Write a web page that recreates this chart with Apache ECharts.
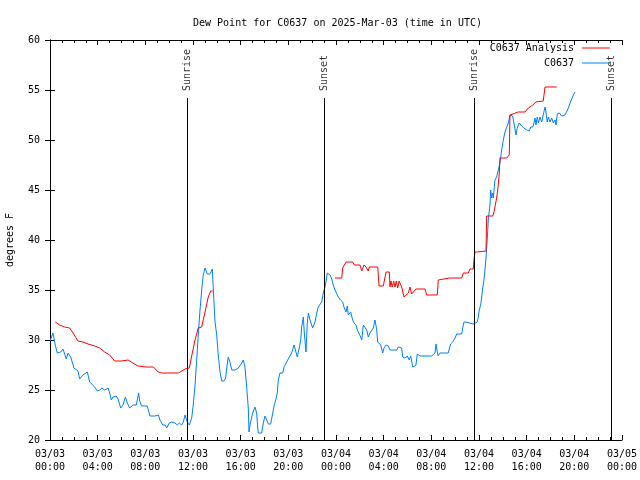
<!DOCTYPE html>
<html><head><meta charset="utf-8">
<script src="https://cdn.jsdelivr.net/npm/echarts@6/dist/echarts.min.js"></script>
<style>html,body{margin:0;padding:0;background:#fff}#c{width:640px;height:480px}</style>
</head><body><div id="c"></div>
<script>
const titleText = 'Dew Point for C0637 on 2025-Mar-03 (time in UTC)';
const yAxisName = 'degrees F';
const xTickLabels = ['03/03\n00:00','03/03\n04:00','03/03\n08:00','03/03\n12:00','03/03\n16:00','03/03\n20:00',
  '03/04\n00:00','03/04\n04:00','03/04\n08:00','03/04\n12:00','03/04\n16:00','03/04\n20:00','03/05\n00:00'];
const seriesNames = ['C0637 Analysis', 'C0637'];

// hours since 2025-03-03 00:00 UTC
const sunTimes = [11.52, 23.03, 35.6, 47.12];
const sunLabels = ['Sunrise', 'Sunset', 'Sunrise', 'Sunset'];

const redTimesA = [0.44,0.81,1.23,1.65,1.93,2.35,2.77,3.19,3.75,4.17,4.59,5.01,5.43,5.98,6.55,6.96,7.38,8.08,8.67,9.09,
  9.37,10.77,11.05,11.33,11.69,11.89,12.17,12.44,12.73,13.01,13.28,13.49,13.65];
const redValuesA = [31.8,31.5,31.3,31.2,30.7,29.9,29.8,29.6,29.4,29.2,28.8,28.5,27.9,27.9,28.0,27.7,27.4,27.3,27.3,26.8,
  26.7,26.7,26.9,27.1,27.2,28.4,30.0,31.2,31.3,32.8,34.3,34.9,34.9];

const redTimesB = [23.92,24.48,24.56,24.70,24.84,25.40,25.54,26.01,26.16,26.35,26.52,26.71,26.79,27.50,27.61,27.97,28.20,28.47,
  28.53,28.61,28.72,28.84,28.95,29.06,29.18,29.29,29.37,29.51,29.71,29.87,30.07,30.21,30.35,30.49,30.71,31.47,31.61,32.50,
  32.58,33.51,34.55,34.68,35.10,35.24,35.52,35.58,35.66,35.86,35.94,36.59,36.64,37.15,37.26,37.34,37.48,37.57,37.70,37.76,
  38.32,38.54,38.60,38.74,39.30,39.86,40.14,40.51,40.61,40.78,41.39,41.54,41.96,42.10,42.52];
const redValuesB = [36.2,36.2,37.2,37.2,37.8,37.8,37.5,37.5,36.9,37.5,37.3,36.9,37.3,37.3,35.4,35.4,36.8,36.8,
  35.3,35.9,35.3,35.9,35.3,35.9,35.2,35.9,35.7,35.3,34.3,34.1,34.7,35.3,34.6,34.6,35.1,35.1,34.5,34.5,
  36.0,36.2,36.2,36.7,36.7,37.1,37.1,38.0,38.8,38.8,38.9,38.9,42.4,42.4,42.8,43.3,44.2,45.0,46.6,48.2,
  48.2,48.5,52.5,52.7,52.8,52.8,53.2,53.5,53.7,53.8,53.9,55.3,55.3,55.2,55.3];

const blueTimes = [0.00,0.11,0.25,0.34,0.44,0.61,0.90,1.09,1.37,1.51,1.74,2.01,2.12,2.35,2.49,2.77,3.13,3.33,3.47,3.75,
  3.97,4.17,4.36,4.59,4.87,5.01,5.14,5.29,5.56,5.71,5.93,6.13,6.32,6.49,6.69,6.96,7.24,7.44,7.53,7.69,
  8.16,8.25,8.39,8.81,9.09,9.23,9.46,9.65,9.79,10.01,10.21,10.49,10.68,10.85,11.05,11.19,11.33,11.47,11.52,11.69,
  11.89,12.02,12.17,12.31,12.44,12.59,12.73,12.86,13.01,13.20,13.43,13.62,13.70,13.85,13.99,14.12,14.27,14.41,14.60,14.74,
  14.83,14.96,15.10,15.25,15.52,15.80,16.09,16.22,16.36,16.51,16.64,16.70,16.78,17.01,17.20,17.34,17.43,17.48,17.76,17.90,
  18.04,18.18,18.32,18.52,18.69,18.82,18.96,19.07,19.16,19.30,19.53,19.64,19.86,20.08,20.28,20.48,20.64,20.75,20.92,21.04,
  21.12,21.26,21.34,21.48,21.59,21.68,21.82,22.04,22.24,22.38,22.51,22.66,22.80,22.93,23.08,23.22,23.27,23.50,23.64,23.77,
  23.92,24.06,24.19,24.39,24.56,24.67,24.84,24.95,25.03,25.23,25.40,25.51,25.68,25.79,25.95,26.07,26.16,26.29,26.43,26.58,
  26.71,26.85,26.99,27.13,27.27,27.42,27.50,27.63,27.75,27.92,28.03,28.20,28.39,28.53,28.67,28.87,29.09,29.23,29.51,29.60,
  29.79,29.98,30.15,30.27,30.44,30.55,30.71,30.82,31.05,32.03,32.16,32.31,32.39,32.50,32.58,32.73,33.42,33.51,33.62,33.79,
  33.90,33.99,34.13,34.55,34.63,34.74,34.91,35.02,35.52,35.66,35.86,35.94,36.02,36.14,36.23,36.31,36.42,36.50,36.59,36.70,
  36.78,36.92,36.98,37.06,37.15,37.20,37.34,37.48,37.62,37.76,37.90,38.04,38.18,38.32,38.46,38.60,38.82,38.93,39.10,39.21,
  39.38,39.58,39.77,40.00,40.22,40.34,40.51,40.61,40.70,40.78,40.89,40.98,41.12,41.26,41.39,41.54,41.62,41.73,41.82,41.96,
  42.10,42.24,42.38,42.46,42.57,42.74,42.94,43.07,43.22,43.36,43.50,43.64,43.78,43.92,44.06];
const blueValues = [29.9,29.9,30.7,30.5,29.5,28.7,28.8,29.1,28.1,28.7,28.3,27.2,27.0,26.9,26.1,26.5,26.8,25.8,25.7,25.3,
  24.9,25.0,25.2,25.0,25.2,24.7,24.0,24.3,24.4,24.1,23.2,23.5,24.3,23.7,23.2,23.5,23.5,24.7,23.9,23.4,
  23.4,23.0,22.4,22.4,22.5,22.0,21.5,21.5,21.2,21.7,21.8,21.7,21.5,21.7,21.5,21.8,22.5,22.7,21.8,21.5,
  22.2,23.5,25.5,28.0,30.5,33.0,35.0,36.5,37.2,36.6,36.6,37.1,35.2,31.8,30.5,28.5,26.8,25.9,25.9,26.2,
  27.2,28.3,27.8,27.0,27.0,27.2,27.7,28.0,27.3,25.2,23.2,20.8,21.5,22.7,23.3,22.7,21.3,20.7,20.7,21.7,
  22.4,22.0,21.6,21.6,22.7,23.5,24.1,24.7,26.0,26.7,26.7,27.3,27.8,28.3,28.7,29.5,28.8,28.3,29.2,30.0,
  31.3,32.3,30.7,28.8,31.7,32.7,32.0,31.2,31.8,32.7,33.3,33.5,33.8,34.7,35.3,36.3,36.7,36.5,36.1,35.5,
  35.0,35.2,34.3,34.0,33.8,33.3,32.8,33.4,32.5,32.8,32.0,31.7,31.5,31.0,30.8,30.3,30.0,31.5,31.7,31.0,
  30.3,30.7,30.8,31.2,32.0,31.0,29.8,29.8,29.5,28.7,29.2,29.5,29.4,29.0,28.8,29.0,29.0,29.3,29.2,28.3,
  28.2,28.4,28.0,28.4,27.3,27.2,27.5,28.6,28.4,28.4,28.6,28.7,29.6,28.8,28.4,28.7,28.7,29.1,29.6,29.8,
  29.6,30.2,30.6,30.6,31.2,31.8,31.8,31.6,31.6,31.8,31.8,32.3,33.0,33.5,34.3,35.2,36.0,37.0,38.2,40.2,
  42.0,43.5,45.0,44.2,44.7,44.2,46.0,46.3,47.0,47.7,49.0,50.0,50.8,51.0,51.7,52.5,52.4,51.7,50.5,51.2,
  51.7,51.4,51.2,51.0,50.9,51.3,51.3,51.7,52.2,51.5,52.3,51.7,52.3,51.8,52.5,53.3,52.8,51.8,52.3,51.8,
  52.2,51.7,52.0,51.5,52.6,52.7,52.4,52.3,52.5,52.7,53.2,53.7,54.1,54.5,54.8];

const sunLineTop = 54.2;   // where the sun markers stop
const sunLabelBase = 54.9; // where the rotated sun labels start

const zip = (a, b) => a.map((t, i) => [t, b[i]]);
const FONT = 'DejaVu Sans Mono';
const txt = { fontFamily: FONT, fontSize: 10, color: '#000' };

const chart = echarts.init(document.getElementById('c'), null, { renderer: 'canvas' });
const xBase = {
  type: 'value', min: 0, max: 48, interval: 4,
  axisLine: { show: true, lineStyle: { color: '#000', width: 1 } },
  axisTick: { show: true, inside: true, length: 5, lineStyle: { color: '#000' } },
  minorTick: { show: true, splitNumber: 4, length: 3, lineStyle: { color: '#000' } },
  splitLine: { show: false }, minorSplitLine: { show: false }
};
const yBase = {
  type: 'value', min: 20, max: 60, interval: 5,
  axisLine: { show: true, lineStyle: { color: '#000', width: 1 } },
  axisTick: { show: true, inside: true, length: 5, lineStyle: { color: '#000' } },
  splitLine: { show: false }
};
chart.setOption({
  animation: false,
  backgroundColor: '#fff',
  title: { text: titleText, left: 188, top: 13, textStyle: Object.assign({ fontWeight: 'normal' }, txt) },
  legend: {
    data: seriesNames.map(n => ({ name: n, icon: 'rect' })),
    orient: 'vertical', right: 25, top: 38, align: 'right',
    itemWidth: 28, itemHeight: 1, itemGap: 5, textStyle: Object.assign({ padding: [0, 3, 0, 0] }, txt),
    selectedMode: false
  },
  grid: { left: 50, right: 18, top: 40, bottom: 40, containLabel: false, outerBoundsMode: 'none' },
  xAxis: [
    Object.assign({}, xBase, { position: 'bottom',
      axisLabel: Object.assign({ margin: 8, lineHeight: 13, formatter: (v) => xTickLabels[Math.round(v / 4)] }, txt) }),
    Object.assign({}, xBase, { position: 'top', axisLabel: { show: false } })
  ],
  yAxis: [
    Object.assign({}, yBase, { position: 'left', name: yAxisName, nameLocation: 'middle', nameGap: 35, nameRotate: 90,
      nameTextStyle: txt, axisLabel: Object.assign({ margin: 10 }, txt) }),
    Object.assign({}, yBase, { position: 'right', axisLabel: { show: false } })
  ],
  series: [
    {
      name: 'sun', type: 'scatter', symbolSize: 0, silent: true, z: 1,
      data: sunTimes.map(t => [t, sunLabelBase]),
      label: Object.assign({ show: true, position: 'inside', rotate: 90, align: 'left', verticalAlign: 'middle',
        formatter: p => sunLabels[p.dataIndex] }, txt),
      markLine: {
        silent: true, symbol: ['none', 'none'], label: { show: false },
        lineStyle: { color: '#000', width: 1, type: 'solid' },
        emphasis: { disabled: true },
        data: sunTimes.map(t => [{ coord: [t, 20] }, { coord: [t, sunLineTop] }])
      }
    },
    { name: seriesNames[0], type: 'line', data: zip(redTimesA, redValuesA), showSymbol: false, symbol: 'none',
      lineStyle: { color: '#ff0000', width: 1 }, itemStyle: { color: '#ff0000' }, z: 3 },
    { name: seriesNames[0], type: 'line', data: zip(redTimesB, redValuesB), showSymbol: false, symbol: 'none',
      lineStyle: { color: '#ff0000', width: 1 }, itemStyle: { color: '#ff0000' }, z: 3 },
    { name: seriesNames[1], type: 'line', data: zip(blueTimes, blueValues), showSymbol: false, symbol: 'none',
      lineStyle: { color: '#0080ff', width: 1 }, itemStyle: { color: '#0080ff' }, z: 2 }
  ]
});
</script>
</body></html>
